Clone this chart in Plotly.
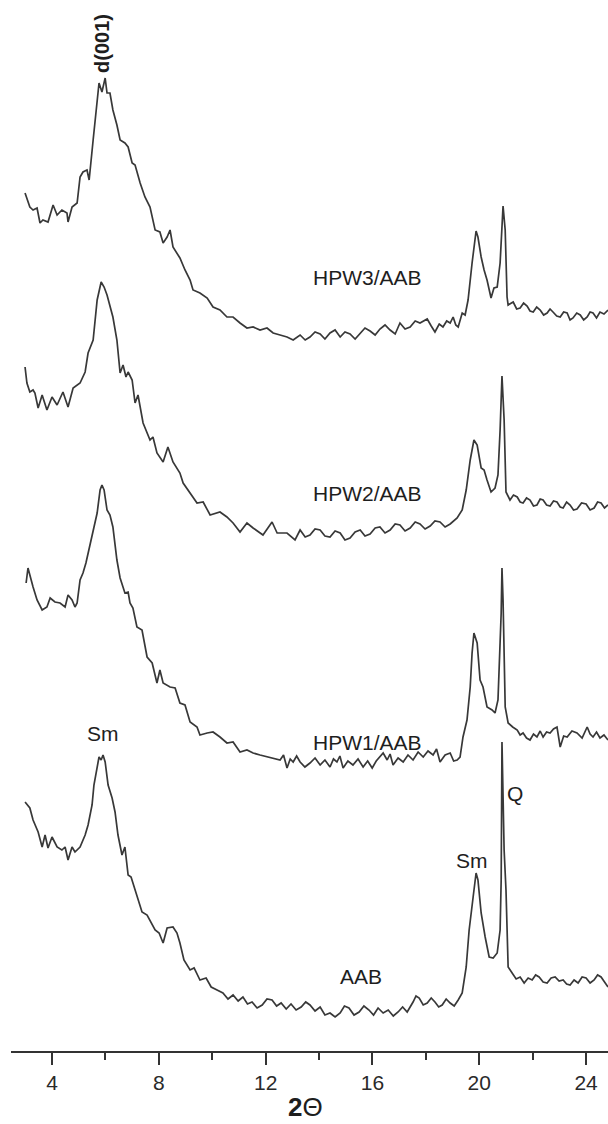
import plotly.graph_objects as go

# ---------------- data (2-theta in degrees, intensity in a.u., stacked) ----------------
two_theta_hpw3 = [2.99, 3.06, 3.17, 3.29, 3.44, 3.55, 3.66, 3.85, 4.04, 4.19, 4.37, 4.56, 4.60, 4.75, 4.94,
                  5.05, 5.16, 5.31, 5.39, 5.54, 5.69, 5.76, 5.87, 5.99, 6.06, 6.17, 6.28, 6.43, 6.55, 6.73,
                  6.85, 7.00, 7.11, 7.30, 7.48, 7.67, 7.86, 8.04, 8.16, 8.31, 8.42, 8.53, 8.79, 8.98, 9.17,
                  9.28, 9.54, 9.81, 10.03, 10.29, 10.55, 10.78, 11.04, 11.30, 11.53, 11.79, 12.05, 12.28,
                  12.54, 12.80, 13.03, 13.29, 13.48, 13.66, 13.85, 14.04, 14.22, 14.41, 14.60, 14.79, 14.97,
                  15.16, 15.35, 15.54, 15.72, 15.91, 16.10, 16.28, 16.47, 16.66, 16.85, 17.03, 17.22, 17.41,
                  17.60, 17.78, 18.05, 18.20, 18.34, 18.50, 18.64, 18.78, 18.91, 19.02, 19.12, 19.21, 19.36,
                  19.47, 19.58, 19.73, 19.88, 19.95, 20.07, 20.18, 20.29, 20.44, 20.55, 20.67, 20.78, 20.89,
                  20.97, 21.04, 21.08, 21.27, 21.40, 21.53, 21.66, 21.79, 21.90, 22.02, 22.15, 22.28, 22.41,
                  22.54, 22.65, 22.76, 22.90, 23.03, 23.16, 23.29, 23.40, 23.51, 23.65, 23.78, 23.91, 24.04,
                  24.15, 24.26, 24.39, 24.52, 24.67, 24.82]
intensity_hpw3 = [858, 853, 844, 841, 843, 828, 831, 829, 846, 836, 841, 838, 829, 844, 848,
                  874, 879, 881, 871, 911, 948, 968, 959, 973, 958, 958, 941, 926, 911, 908,
                  904, 888, 886, 868, 854, 844, 821, 819, 808, 814, 821, 804, 793, 781, 771,
                  761, 758, 753, 744, 741, 734, 734, 728, 723, 724, 721, 723, 718,
                  716, 714, 711, 716, 711, 714, 719, 717, 712, 718, 721, 714, 719,
                  717, 712, 718, 723, 720, 716, 722, 726, 721, 717, 728, 722, 724,
                  730, 728, 732, 725, 719, 727, 724, 730, 728, 734, 726, 724, 738,
                  736, 751, 788, 820, 814, 794, 781, 771, 753, 763, 764, 788, 845,
                  821, 754, 746, 749, 742, 743, 748, 745, 740, 739, 744, 741, 736,
                  738, 742, 739, 735, 734, 739, 738, 731, 733, 738, 736, 731, 734,
                  739, 738, 733, 739, 737, 741]

two_theta_hpw2 = [2.99, 3.06, 3.17, 3.29, 3.36, 3.48, 3.63, 3.81, 4.00, 4.19, 4.41, 4.60, 4.79, 5.05, 5.24,
                  5.35, 5.54, 5.69, 5.84, 5.95, 6.06, 6.28, 6.43, 6.55, 6.66, 6.77, 6.85, 7.00, 7.11, 7.22,
                  7.41, 7.67, 7.78, 7.93, 8.16, 8.34, 8.53, 8.79, 8.91, 9.17, 9.43, 9.66, 9.92, 10.29, 10.55,
                  10.78, 11.04, 11.30, 11.53, 11.90, 12.24, 12.43, 12.80, 13.10, 13.29, 13.48, 13.66, 13.85,
                  14.04, 14.22, 14.41, 14.60, 14.79, 14.97, 15.16, 15.35, 15.54, 15.72, 15.91, 16.10, 16.28,
                  16.47, 16.66, 16.85, 17.03, 17.22, 17.41, 17.60, 17.78, 17.97, 18.16, 18.34, 18.53, 18.72,
                  18.91, 19.17, 19.36, 19.51, 19.66, 19.80, 19.92, 20.07, 20.18, 20.29, 20.44, 20.59, 20.70,
                  20.78, 20.85, 20.93, 21.00, 21.15, 21.28, 21.42, 21.53, 21.64, 21.77, 21.90, 22.03, 22.16,
                  22.28, 22.39, 22.52, 22.65, 22.78, 22.91, 23.03, 23.14, 23.27, 23.40, 23.53, 23.66, 23.83,
                  24.00, 24.15, 24.30, 24.43, 24.56, 24.69, 24.82]
intensity_hpw2 = [684, 668, 659, 661, 658, 643, 656, 641, 654, 646, 659, 644, 663, 668, 679,
                  698, 711, 751, 769, 764, 756, 734, 711, 678, 686, 674, 679, 671, 648, 656,
                  628, 611, 614, 598, 589, 604, 589, 578, 568, 558, 548, 549, 536, 539, 534,
                  528, 519, 528, 523, 516, 529, 518, 518, 511, 521, 514, 516, 522,
                  521, 515, 514, 520, 518, 511, 513, 519, 521, 515, 517, 523, 524,
                  518, 521, 527, 526, 520, 523, 529, 527, 522, 525, 530, 529, 524,
                  527, 533, 541, 561, 591, 611, 606, 583, 581, 571, 559, 563, 576,
                  621, 675, 631, 559, 551, 556, 554, 549, 548, 553, 551, 545, 546,
                  552, 551, 546, 545, 550, 549, 544, 543, 549, 546, 541, 542, 548,
                  547, 541, 543, 549, 548, 543, 546]

two_theta_hpw1 = [3.03, 3.10, 3.29, 3.44, 3.63, 3.81, 3.93, 4.11, 4.30, 4.49, 4.60, 4.75, 4.86, 4.94, 5.05,
                  5.16, 5.27, 5.50, 5.69, 5.80, 5.87, 5.95, 6.06, 6.17, 6.28, 6.43, 6.55, 6.73, 6.85, 6.92,
                  7.03, 7.18, 7.37, 7.56, 7.75, 7.93, 8.04, 8.16, 8.42, 8.61, 8.79, 8.98, 9.17, 9.43, 9.54,
                  9.81, 10.03, 10.29, 10.55, 10.78, 11.04, 11.30, 11.53, 11.79, 12.05, 12.28,
                  12.54, 12.67, 12.80, 12.92, 13.03, 13.16, 13.29, 13.47, 13.66, 13.85, 14.04, 14.22, 14.41,
                  14.54, 14.67, 14.78, 14.90, 15.08, 15.27, 15.46, 15.65, 15.82, 15.99, 16.14, 16.28, 16.40,
                  16.55, 16.66, 16.77, 16.96, 17.15, 17.33, 17.52, 17.71, 17.90, 18.08, 18.27, 18.40, 18.53,
                  18.72, 18.91, 19.04, 19.17, 19.28, 19.39, 19.54, 19.66, 19.73, 19.80,
                  19.92, 20.03, 20.14, 20.29, 20.48, 20.59, 20.70, 20.82, 20.85, 20.89, 20.97, 21.08, 21.25,
                  21.42, 21.53, 21.64, 21.77, 21.90, 22.03, 22.16, 22.28, 22.39, 22.52, 22.65, 22.78, 22.91,
                  23.03, 23.16, 23.29, 23.47, 23.66, 23.85, 24.04, 24.15, 24.26, 24.39, 24.52, 24.67, 24.82]
intensity_hpw1 = [468, 483, 464, 451, 441, 444, 453, 449, 448, 444, 456, 451, 444, 448, 471,
                  478, 488, 516, 538, 561, 566, 561, 541, 536, 524, 491, 473, 458, 459, 448,
                  443, 424, 421, 394, 388, 368, 381, 368, 364, 363, 348, 346, 329, 324, 316,
                  318, 319, 314, 308, 309, 299, 301, 298, 296, 294, 293,
                  291, 296, 283, 292, 289, 295, 289, 284, 288, 293, 286, 291, 284,
                  292, 289, 295, 283, 290, 286, 292, 284, 290, 283, 290, 294, 298,
                  291, 297, 286, 293, 289, 296, 291, 299, 294, 300, 296, 302, 289,
                  296, 298, 290, 291, 294, 314, 331, 364, 398, 418,
                  408, 371, 364, 344, 341, 338, 351, 438, 483, 451, 344, 328, 324,
                  321, 316, 318, 313, 311, 317, 314, 320, 314, 319, 318, 322, 324,
                  304, 315, 314, 320, 318, 313, 324, 317, 314, 319, 313, 316, 311]

two_theta_aab = [2.99, 3.17, 3.29, 3.48, 3.63, 3.74, 3.85, 4.00, 4.19, 4.37, 4.49, 4.60, 4.75, 4.86, 5.05,
                 5.24, 5.35, 5.50, 5.57, 5.69, 5.76, 5.84, 5.91, 5.99, 6.10, 6.25, 6.36, 6.47, 6.62, 6.73,
                 6.85, 6.96, 7.30, 7.37, 7.56, 7.78, 7.86, 8.01, 8.16, 8.31, 8.53, 8.68, 8.79, 8.94, 9.17,
                 9.32, 9.54, 9.77, 9.96, 10.18,
                 10.40, 10.59, 10.78, 10.97, 11.15, 11.32, 11.49, 11.68, 11.87, 12.05, 12.24, 12.41, 12.58,
                 12.77, 12.95, 13.14, 13.33, 13.50, 13.66, 13.85, 14.04, 14.22, 14.41, 14.60, 14.79, 14.95,
                 15.12, 15.31, 15.50, 15.68, 15.87, 16.04, 16.21, 16.40, 16.59, 16.78, 16.96, 17.13, 17.30,
                 17.52, 17.63, 17.75, 17.90, 18.05, 18.20, 18.34, 18.48, 18.61, 18.76, 18.91, 19.06, 19.21,
                 19.36, 19.51, 19.62, 19.77, 19.88, 19.95, 20.07,
                 20.22, 20.37, 20.52, 20.67, 20.78, 20.82, 20.85, 20.93, 21.00, 21.08, 21.23, 21.38, 21.53,
                 21.68, 21.83, 21.98, 22.11, 22.24, 22.39, 22.54, 22.69, 22.84, 22.99, 23.14, 23.27, 23.40,
                 23.55, 23.70, 23.85, 24.00, 24.15, 24.30, 24.43, 24.56, 24.69, 24.82]
intensity_aab = [249, 243, 231, 219, 204, 216, 203, 214, 204, 201, 204, 191, 204, 199, 204,
                 216, 226, 246, 266, 286, 294, 291, 296, 289, 266, 253, 239, 216, 196, 204,
                 176, 174, 144, 139, 136, 124, 121, 118, 108, 123, 124, 118, 108, 91, 81,
                 83, 71, 73, 64, 61,
                 58, 52, 56, 50, 54, 47, 49, 43, 46, 52, 51, 45, 48,
                 42, 47, 41, 44, 49, 46, 40, 44, 36, 38, 34, 38, 45,
                 43, 36, 39, 45, 41, 36, 43, 38, 41, 35, 39, 44, 39,
                 49, 55, 53, 46, 48, 53, 49, 44, 46, 52, 48, 45, 51,
                 58, 84, 121, 154, 178, 171, 138,
                 114, 94, 93, 98, 121, 171, 309, 201, 161, 84, 78, 72, 74,
                 68, 73, 71, 76, 74, 69, 68, 73, 74, 70, 71, 67, 66,
                 71, 68, 74, 73, 68, 71, 76, 74, 69, 64]

series = [
    ("HPW3/AAB", two_theta_hpw3, intensity_hpw3),
    ("HPW2/AAB", two_theta_hpw2, intensity_hpw2),
    ("HPW1/AAB", two_theta_hpw1, intensity_hpw1),
    ("AAB", two_theta_aab, intensity_aab),
]

major_ticks = [4, 8, 12, 16, 20, 24]
x_title = "<b>2</b>Θ"

# ---------------- figure ----------------
LINE = "#383838"
TXT = "#1e1e1e"
FONT = "Liberation Sans, Arial, sans-serif"

fig = go.Figure()
for name, xs, ys in series:
    fig.add_trace(go.Scatter(x=xs, y=ys, mode="lines", name=name,
                             line=dict(color=LINE, width=1.7), showlegend=False))

labels = [
    ("d(001)", 5.87, 1008, -90, True, 20),
    ("HPW3/AAB", 15.80, 774, 0, False, 21),
    ("HPW2/AAB", 15.80, 558, 0, False, 21),
    ("HPW1/AAB", 15.80, 309, 0, False, 21),
    ("Sm", 5.91, 318, 0, False, 21),
    ("Sm", 19.73, 191, 0, False, 21),
    ("Q", 21.34, 258, 0, False, 21),
    ("AAB", 15.57, 75, 0, False, 21),
]
for txt, lx, ly, ang, bold, size in labels:
    fig.add_annotation(x=lx, y=ly, xref="x", yref="y",
                       text=f"<b>{txt}</b>" if bold else txt,
                       textangle=ang, showarrow=False,
                       font=dict(family=FONT, size=size, color=TXT),
                       xanchor="center", yanchor="middle")

fig.add_annotation(x=0.4925, y=-0.053, xref="paper", yref="paper", text=x_title,
                   showarrow=False, font=dict(family=FONT, size=26, color=TXT),
                   xanchor="center", yanchor="middle")

fig.update_layout(
    width=608, height=1124,
    margin=dict(l=11, r=0, t=0, b=73),
    paper_bgcolor="white", plot_bgcolor="white",
    xaxis=dict(range=[2.464, 24.82], showgrid=False, zeroline=False,
               showline=True, linecolor="#333333", linewidth=2,
               ticks="outside", ticklen=12, tickwidth=2, tickcolor="#333333",
               tickmode="array", tickvals=major_ticks,
               tickfont=dict(family=FONT, size=21, color="#2a2a2a"),
               minor=dict(ticks="outside", ticklen=7, tickwidth=2, tickcolor="#333333",
                          tickmode="linear", tick0=2, dtick=4)),
    yaxis=dict(range=[0, 1051], visible=False, showgrid=False, zeroline=False),
)

fig.write_html("out.html")
